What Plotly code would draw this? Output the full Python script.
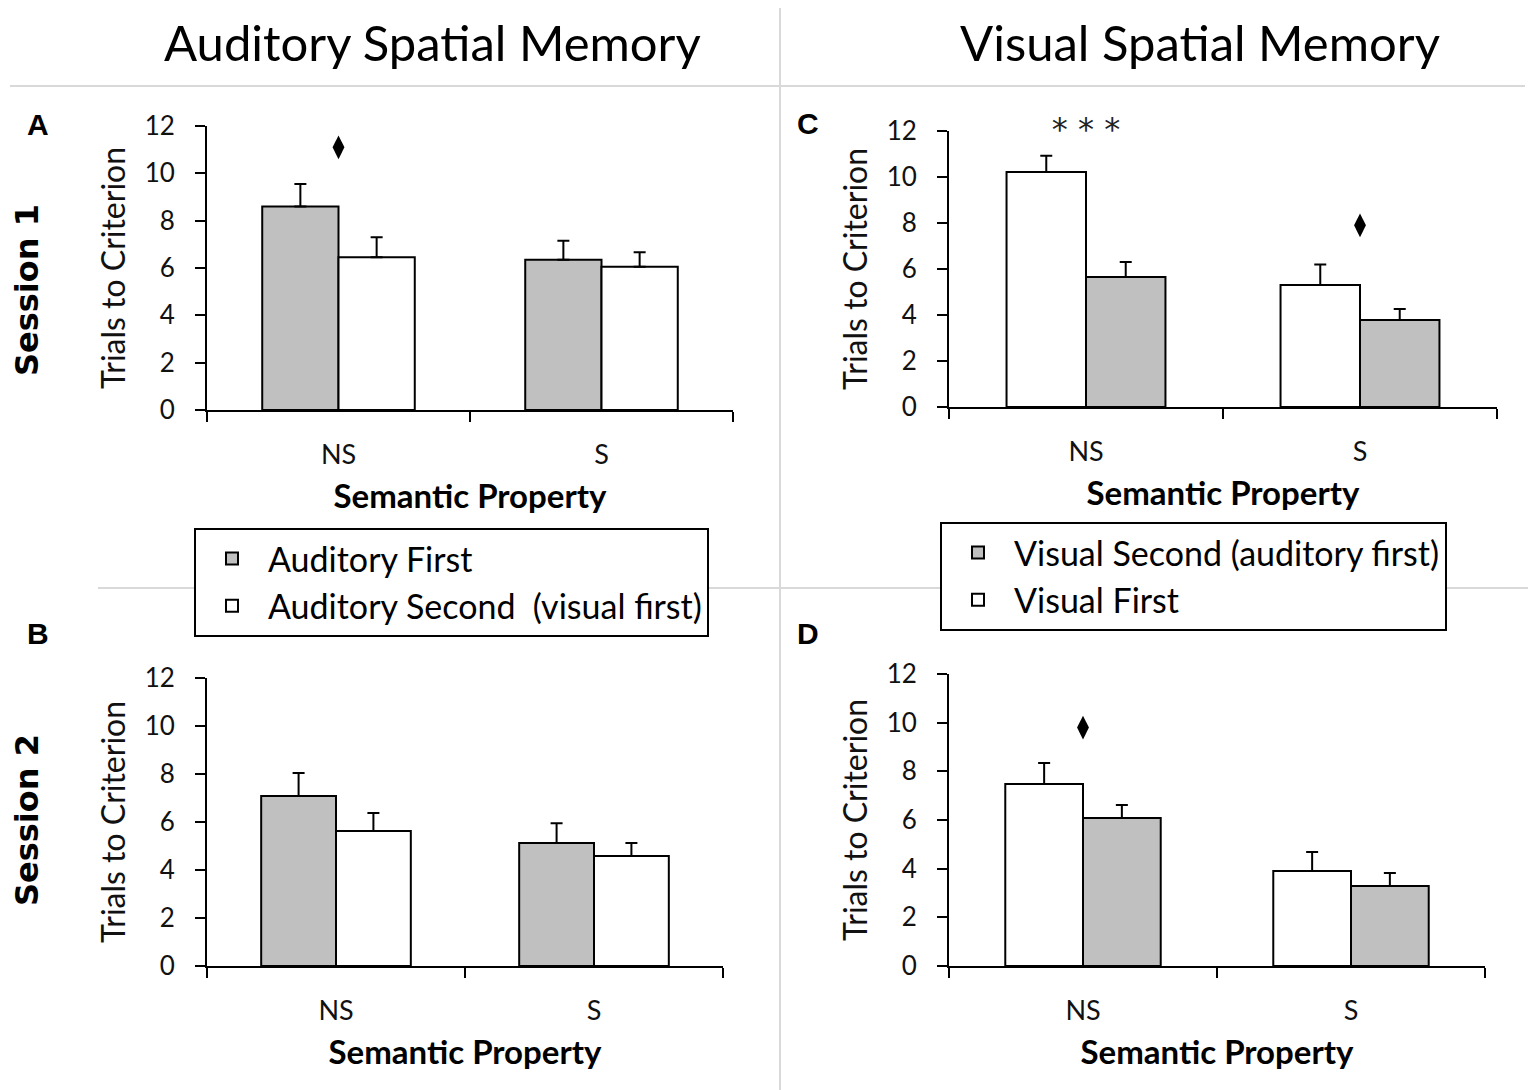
import plotly.graph_objects as go

categories = ["NS", "S"]

# Panel A: Session 1, auditory spatial memory
a_aud_first = [8.6, 6.35]
a_aud_first_err = [0.95, 0.8]
a_aud_second = [6.45, 6.05]
a_aud_second_err = [0.85, 0.62]

# Panel B: Session 2, auditory spatial memory
b_aud_first = [7.08, 5.12]
b_aud_first_err = [0.96, 0.83]
b_aud_second = [5.62, 4.58]
b_aud_second_err = [0.75, 0.54]

# Panel C: Session 1, visual spatial memory
c_vis_first = [10.22, 5.3]
c_vis_first_err = [0.7, 0.9]
c_vis_second = [5.65, 3.78]
c_vis_second_err = [0.65, 0.48]

# Panel D: Session 2, visual spatial memory
d_vis_first = [7.48, 3.9]
d_vis_first_err = [0.86, 0.78]
d_vis_second = [6.08, 3.29]
d_vis_second_err = [0.54, 0.53]

# Significance markers (category, y)
diamond_marks = {"A": [("NS", 11.1)], "C": [("S", 7.9)], "D": [("NS", 9.8)]}
star_marks = {"C": [("NS", 11.25, "* * *")]}

GRAY = "#c0c0c0"
FONT = "Lato"

fig = go.Figure()

panels = [
    ("A", "x", "y", [(a_aud_first, a_aud_first_err, "Auditory First", GRAY, "legend", True, 1),
                     (a_aud_second, a_aud_second_err, "Auditory Second  (visual first)", "white", "legend", True, 2)]),
    ("B", "x2", "y2", [(b_aud_first, b_aud_first_err, "Auditory First", GRAY, "legend", False, 1),
                       (b_aud_second, b_aud_second_err, "Auditory Second  (visual first)", "white", "legend", False, 2)]),
    ("C", "x3", "y3", [(c_vis_first, c_vis_first_err, "Visual First", "white", "legend2", True, 2),
                       (c_vis_second, c_vis_second_err, "Visual Second (auditory first)", GRAY, "legend2", True, 1)]),
    ("D", "x4", "y4", [(d_vis_first, d_vis_first_err, "Visual First", "white", "legend2", False, 2),
                       (d_vis_second, d_vis_second_err, "Visual Second (auditory first)", GRAY, "legend2", False, 1)]),
]

for key, xa, ya, series in panels:
    for vals, err, name, color, leg, show, rank in series:
        fig.add_trace(go.Bar(
            x=categories, y=vals, name=name, xaxis=xa, yaxis=ya,
            marker=dict(color=color, line=dict(color="black", width=2)),
            error_y=dict(type="data", array=err, arrayminus=[0] * len(err), symmetric=False,
                         color="black", thickness=2, width=6),
            legend=leg, showlegend=show, legendrank=rank, offsetgroup=name,
        ))
    if key in diamond_marks:
        fig.add_trace(go.Scatter(
            x=[c for c, _ in diamond_marks[key]], y=[v for _, v in diamond_marks[key]],
            mode="markers", marker=dict(symbol="diamond-tall", size=17, color="black"),
            xaxis=xa, yaxis=ya, showlegend=False, cliponaxis=False, hoverinfo="skip",
        ))
    if key in star_marks:
        fig.add_trace(go.Scatter(
            x=[c for c, _, _ in star_marks[key]], y=[v for _, v, _ in star_marks[key]],
            text=[t for _, _, t in star_marks[key]], textposition="top center",
            mode="text", textfont=dict(size=32, color="#222", family="DejaVu Sans"),
            xaxis=xa, yaxis=ya, showlegend=False, cliponaxis=False, hoverinfo="skip",
        ))

# The page body adds an 8px margin, so the figure is slightly smaller and offset.
OFF = 8
W, H = 1536 - OFF, 1090 - OFF


def px_x(p):
    return (p - OFF) / W


def px_y(p):
    return 1 - (p - OFF) / H


domains = {
    "A": ((207, 733), (410, 126)),
    "B": ((207, 723), (966, 678)),
    "C": ((949, 1497), (407, 131)),
    "D": ((949, 1485), (966, 674)),
}

axis_font = dict(family=FONT, size=26, color="#111")
layout_axes = {}
for i, key in enumerate(["A", "B", "C", "D"]):
    (x0, x1), (yb, yt) = domains[key]
    sfx = "" if i == 0 else str(i + 1)
    layout_axes["xaxis" + sfx] = dict(
        domain=[px_x(x0), px_x(x1)], anchor="y" + sfx, type="category",
        categoryorder="array", categoryarray=categories,
        range=[-0.5, 1.5], tickson="boundaries", ticks="outside", ticklen=10, tickwidth=2,
        tickcolor="black", showline=True, linewidth=2, linecolor="black", showgrid=False,
        zeroline=False, tickfont=dict(family=FONT, size=27, color="#111"), ticklabelstandoff=20,
        title=dict(text="<b>Semantic Property</b>", font=dict(family=FONT, size=33, color="black"),
                   standoff=15),
        automargin=False, fixedrange=True,
    )
    layout_axes["yaxis" + sfx] = dict(
        domain=[px_y(yb), px_y(yt)], anchor="x" + sfx, range=[0, 12], dtick=2,
        ticks="outside", ticklen=10, tickwidth=2, tickcolor="black", showline=True,
        linewidth=2, linecolor="black", showgrid=False, zeroline=False, tickfont=axis_font,
        ticklabelstandoff=15,
        title=dict(text="Trials to Criterion", font=dict(family=FONT, size=32, color="#111"),
                   standoff=9),
        automargin=False, fixedrange=True,
    )

annotations = [
    dict(text="Auditory Spatial Memory", x=px_x(432), y=px_y(42), showarrow=False,
         font=dict(family=FONT, size=49, color="black")),
    dict(text="Visual Spatial Memory", x=px_x(1200), y=px_y(42), showarrow=False,
         font=dict(family=FONT, size=49, color="black")),
    dict(text="<b>Session 1</b>", x=px_x(27), y=px_y(290), textangle=-90, showarrow=False,
         font=dict(family="DejaVu Sans", size=32, color="black")),
    dict(text="<b>Session 2</b>", x=px_x(27), y=px_y(820), textangle=-90, showarrow=False,
         font=dict(family="DejaVu Sans", size=32, color="black")),
]
for letter, (lx, ly) in {"A": (38, 124), "B": (38, 633), "C": (808, 123), "D": (808, 633)}.items():
    annotations.append(dict(text="<b>%s</b>" % letter, x=px_x(lx), y=px_y(ly), showarrow=False,
                            font=dict(family="Liberation Sans", size=30, color="black")))
for a in annotations:
    a.update(xref="paper", yref="paper", xanchor="center", yanchor="middle")

sep = dict(color="#d9d9d9", width=2)
shapes = [
    dict(type="line", xref="paper", yref="paper", x0=px_x(780), x1=px_x(780), y0=0, y1=1,
         line=sep, layer="below"),
    dict(type="line", xref="paper", yref="paper", x0=px_x(10), x1=px_x(1525), y0=px_y(86),
         y1=px_y(86), line=sep, layer="below"),
    dict(type="line", xref="paper", yref="paper", x0=px_x(98), x1=1, y0=px_y(588),
         y1=px_y(588), line=sep, layer="below"),
]

legend_common = dict(xanchor="left", yanchor="top", bgcolor="white", bordercolor="black",
                     borderwidth=2, font=dict(family=FONT, size=34, color="black"),
                     traceorder="normal", itemclick=False, itemdoubleclick=False,
                     itemwidth=62)

fig.update_layout(
    width=W, height=H,
    margin=dict(l=0, r=0, t=0, b=0),
    paper_bgcolor="white", plot_bgcolor="white",
    barmode="group", bargap=0.42, bargroupgap=0,
    annotations=annotations, shapes=shapes,
    legend=dict(x=px_x(194), y=px_y(528), **legend_common),
    legend2=dict(x=px_x(940), y=px_y(522), **legend_common),
    font=dict(family=FONT),
    **layout_axes,
)

fig.write_html("out.html")
